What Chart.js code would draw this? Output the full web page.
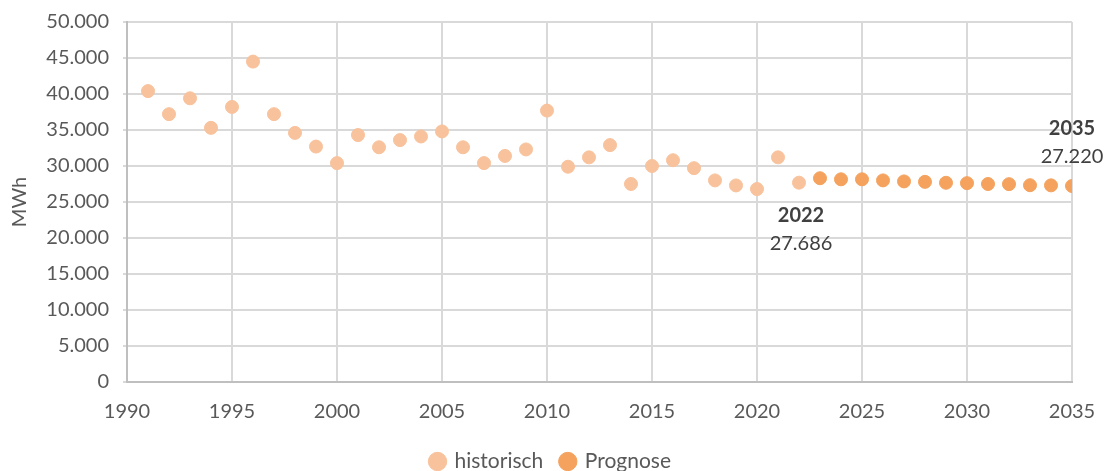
<!DOCTYPE html>
<html>
<head>
<meta charset="utf-8">
<script src="https://cdn.jsdelivr.net/npm/chart.js@4/dist/chart.umd.min.js"></script>
<style>
  html, body { margin: 0; padding: 0; background: #fff; }
  #wrap { width: 1107px; height: 471px; position: relative; }
</style>
</head>
<body>
<div id="wrap"><canvas id="chart"></canvas></div>
<script>
const histYears = [1991, 1992, 1993, 1994, 1995, 1996, 1997, 1998, 1999, 2000, 2001, 2002, 2003, 2004, 2005, 2006,
  2007, 2008, 2009, 2010, 2011, 2012, 2013, 2014, 2015, 2016, 2017, 2018, 2019, 2020, 2021, 2022]
const histValues = [40400, 37200, 39400, 35300, 38200, 44500, 37200, 34600, 32700, 30400, 34300, 32600, 33600, 34100, 34800, 32600,
  30400, 31400, 32300, 37700, 29900, 31200, 32900, 27500, 30000, 30800, 29700, 28000, 27300, 26800, 31200, 27686]
const progYears = [2023, 2024, 2025, 2026, 2027, 2028, 2029, 2030, 2031, 2032, 2033, 2034, 2035]
const progValues = [28300, 28150, 28150, 28000, 27860, 27800, 27670, 27620, 27500, 27480, 27330, 27310, 27220]
const seriesNames = ['historisch', 'Prognose']
const callouts = [
  { year: 2022, value: 27686, title: '2022', text: '27.686', dx: 2, dy: 33 },
  { year: 2035, value: 27220, title: '2035', text: '27.220', dx: 0, dy: -57 },
]

const fmt = v => v.toLocaleString('de-DE')
const textColor = '#595959'
const gridColor = '#D9D9D9'
const FONT = 'Lato, "Open Sans", sans-serif'

// draws the "2022 / 27.686" style labels next to points
const calloutPlugin = {
  id: 'callouts',
  afterDatasetsDraw(chart) {
    const { ctx, scales: { x, y } } = chart
    ctx.save()
    ctx.textAlign = 'center'
    ctx.textBaseline = 'middle'
    ctx.fillStyle = '#404040'
    callouts.forEach(c => {
      const px = x.getPixelForValue(c.year) + c.dx
      const py = y.getPixelForValue(c.value) + c.dy
      ctx.font = `bold 20px ${FONT}`
      ctx.fillText(c.title, px, py)
      ctx.font = `20px ${FONT}`
      ctx.fillText(c.text, px, py + 27.5)
    })
    ctx.restore()
  },
}

new Chart(document.getElementById('chart'), {
  type: 'scatter',
  data: {
    datasets: [
      {
        label: seriesNames[0],
        data: histYears.map((yr, i) => ({ x: yr, y: histValues[i] })),
        backgroundColor: '#F8C29C',
        borderColor: '#F8C29C',
        pointRadius: 6.5,
        pointHoverRadius: 6.5,
      },
      {
        label: seriesNames[1],
        data: progYears.map((yr, i) => ({ x: yr, y: progValues[i] })),
        backgroundColor: '#F4A25E',
        borderColor: '#F4A25E',
        pointRadius: 6.5,
        pointHoverRadius: 6.5,
      },
    ],
  },
  options: {
    responsive: true,
    maintainAspectRatio: false,
    animation: false,
    layout: { padding: { top: 22, right: 35, bottom: -11, left: 30 } },
    plugins: {
      legend: {
        position: 'bottom',
        labels: {
          usePointStyle: true,
          pointStyle: 'circle',
          boxWidth: 13,
          boxHeight: 13,
          padding: 18,
          color: textColor,
          font: { family: FONT, size: 21 },
        },
      },
      tooltip: { enabled: false },
    },
    scales: {
      x: {
        type: 'linear',
        min: 1990,
        max: 2035,
        ticks: {
          stepSize: 5,
          color: textColor,
          font: { family: FONT, size: 20 },
          callback: v => String(v),
          padding: 18,
        },
        grid: { color: gridColor, lineWidth: 2, tickLength: 0 },
        border: { color: '#BFBFBF', width: 2 },
        afterFit: s => { s.height = 51; s.paddingLeft = 0; s.paddingRight = 0 },
      },
      y: {
        min: 0,
        max: 50000,
        ticks: {
          stepSize: 5000,
          color: textColor,
          font: { family: FONT, size: 20 },
          callback: v => fmt(v),
          padding: 14,
        },
        title: { display: true, text: 'MWh', color: textColor, font: { family: FONT, size: 20 }, padding: { top: -22, bottom: 0 } },
        grid: { color: gridColor, lineWidth: 2, tickLength: 4 },
        border: { color: '#BFBFBF', width: 2 },
        afterFit: s => { s.width = 97; s.paddingTop = 0; s.paddingBottom = 0 },
      },
    },
  },
  plugins: [calloutPlugin],
})
</script>
</body>
</html>
